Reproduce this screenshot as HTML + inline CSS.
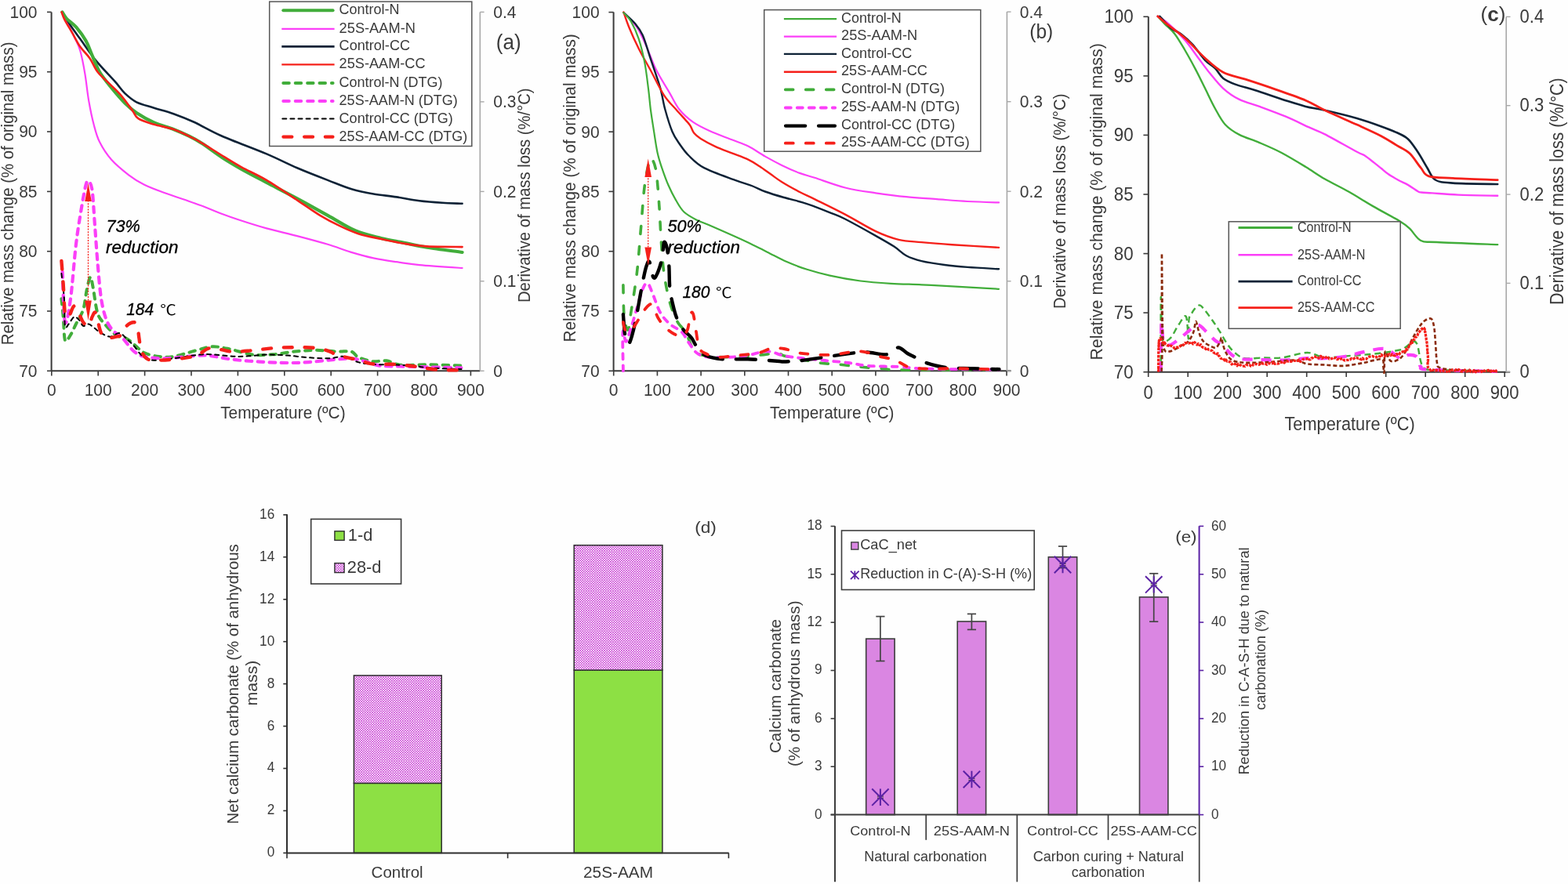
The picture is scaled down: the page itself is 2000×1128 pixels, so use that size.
<!DOCTYPE html>
<html><head><meta charset="utf-8"><title>Figure</title>
<style>
html,body{margin:0;padding:0;background:#fefefe;}
svg{display:block;}
</style></head>
<body>
<svg width="2000" height="1128" viewBox="0 0 2000 1128">
<rect width="2000" height="1128" fill="#fefefe"/>
<g font-family="'Liberation Sans', Arial, sans-serif" fill="#3a3a3a">
<defs><pattern id="chk" patternUnits="userSpaceOnUse" width="3.1" height="3.1"><rect width="3.1" height="3.1" fill="#ffffff"/><rect width="1.55" height="1.55" fill="#c636d2"/><rect x="1.55" y="1.55" width="1.55" height="1.55" fill="#c636d2"/></pattern></defs>
<rect x="451.4" y="999.4" width="111.8" height="89.0" fill="#8de044" stroke="#2e2e2e" stroke-width="1.5"/>
<rect x="451.4" y="861.9" width="111.8" height="137.5" fill="url(#chk)" stroke="#2e2e2e" stroke-width="1.5"/>
<rect x="732.2" y="855.1" width="112.7" height="233.3" fill="#8de044" stroke="#2e2e2e" stroke-width="1.5"/>
<rect x="732.2" y="695.7" width="112.7" height="159.4" fill="url(#chk)" stroke="#2e2e2e" stroke-width="1.5"/>
<line x1="366.0" y1="656.3" x2="366.0" y2="1089.0" stroke="#2e2e2e" stroke-width="2"/>
<line x1="361.3" y1="1088.4" x2="366.0" y2="1088.4" stroke="#2e2e2e" stroke-width="1.6"/>
<text transform="translate(350.2 1093.3) scale(1 1.1)" font-size="17.2" text-anchor="end">0</text>
<line x1="361.3" y1="1034.5" x2="366.0" y2="1034.5" stroke="#2e2e2e" stroke-width="1.6"/>
<text transform="translate(350.2 1039.4) scale(1 1.1)" font-size="17.2" text-anchor="end">2</text>
<line x1="361.3" y1="980.5" x2="366.0" y2="980.5" stroke="#2e2e2e" stroke-width="1.6"/>
<text transform="translate(350.2 985.4) scale(1 1.1)" font-size="17.2" text-anchor="end">4</text>
<line x1="361.3" y1="926.6" x2="366.0" y2="926.6" stroke="#2e2e2e" stroke-width="1.6"/>
<text transform="translate(350.2 931.5) scale(1 1.1)" font-size="17.2" text-anchor="end">6</text>
<line x1="361.3" y1="872.6" x2="366.0" y2="872.6" stroke="#2e2e2e" stroke-width="1.6"/>
<text transform="translate(350.2 877.5) scale(1 1.1)" font-size="17.2" text-anchor="end">8</text>
<line x1="361.3" y1="818.7" x2="366.0" y2="818.7" stroke="#2e2e2e" stroke-width="1.6"/>
<text transform="translate(350.2 823.6) scale(1 1.1)" font-size="17.2" text-anchor="end">10</text>
<line x1="361.3" y1="764.8" x2="366.0" y2="764.8" stroke="#2e2e2e" stroke-width="1.6"/>
<text transform="translate(350.2 769.7) scale(1 1.1)" font-size="17.2" text-anchor="end">12</text>
<line x1="361.3" y1="710.8" x2="366.0" y2="710.8" stroke="#2e2e2e" stroke-width="1.6"/>
<text transform="translate(350.2 715.7) scale(1 1.1)" font-size="17.2" text-anchor="end">14</text>
<line x1="361.3" y1="656.9" x2="366.0" y2="656.9" stroke="#2e2e2e" stroke-width="1.6"/>
<text transform="translate(350.2 661.8) scale(1 1.1)" font-size="17.2" text-anchor="end">16</text>
<line x1="366.0" y1="1088.4" x2="929.6" y2="1088.4" stroke="#2e2e2e" stroke-width="2"/>
<line x1="366.0" y1="1088.4" x2="366.0" y2="1095.2" stroke="#2e2e2e" stroke-width="1.6"/>
<line x1="647.6" y1="1088.4" x2="647.6" y2="1095.2" stroke="#2e2e2e" stroke-width="1.6"/>
<line x1="929.4" y1="1088.4" x2="929.4" y2="1095.2" stroke="#2e2e2e" stroke-width="1.6"/>
<text x="506.6" y="1119.6" font-size="20" text-anchor="middle" textLength="66.0" lengthAdjust="spacingAndGlyphs">Control</text>
<text x="788.5" y="1119.6" font-size="20.3" text-anchor="middle" textLength="89.0" lengthAdjust="spacingAndGlyphs">25S-AAM</text>
<text x="886.2" y="679.8" font-size="20" textLength="27.6" lengthAdjust="spacingAndGlyphs">(d)</text>
<text transform="translate(304.4 1051.4) rotate(-90)" font-size="20.2" textLength="357.2" lengthAdjust="spacingAndGlyphs">Net calcium carbonate (% of anhydrous</text>
<text transform="translate(328.4 900.4) rotate(-90)" font-size="20.4" textLength="57.8" lengthAdjust="spacingAndGlyphs">mass)</text>
<rect x="396.7" y="662.4" width="114.9" height="82.6" fill="#fff" stroke="#3a3a3a" stroke-width="1.6"/>
<rect x="426.9" y="677.8" width="12.2" height="11.6" fill="#8de044" stroke="#2e2e2e" stroke-width="1.4"/>
<rect x="426.9" y="718.6" width="12.2" height="12" fill="url(#chk)" stroke="#2e2e2e" stroke-width="1.4"/>
<text x="443.8" y="689.6" font-size="21.8">1-d</text>
<text x="442.8" y="730.8" font-size="21.8">28-d</text>
<rect x="1104.7" y="815.1" width="36.4" height="224.5" fill="#da86e2" stroke="#3d3d3d" stroke-width="1.6"/>
<rect x="1221.2" y="793.0" width="36.4" height="246.6" fill="#da86e2" stroke="#3d3d3d" stroke-width="1.6"/>
<rect x="1337.3" y="710.8" width="36.4" height="328.8" fill="#da86e2" stroke="#3d3d3d" stroke-width="1.6"/>
<rect x="1453.5" y="761.9" width="36.4" height="277.7" fill="#da86e2" stroke="#3d3d3d" stroke-width="1.6"/>
<line x1="1122.9" y1="786.6" x2="1122.9" y2="843.5" stroke="#444" stroke-width="1.7"/>
<line x1="1117.3" y1="786.6" x2="1128.5" y2="786.6" stroke="#444" stroke-width="1.7"/>
<line x1="1117.3" y1="843.5" x2="1128.5" y2="843.5" stroke="#444" stroke-width="1.7"/>
<line x1="1239.4" y1="783.4" x2="1239.4" y2="803.4" stroke="#444" stroke-width="1.7"/>
<line x1="1233.8" y1="783.4" x2="1245.0" y2="783.4" stroke="#444" stroke-width="1.7"/>
<line x1="1233.8" y1="803.4" x2="1245.0" y2="803.4" stroke="#444" stroke-width="1.7"/>
<line x1="1355.5" y1="697.1" x2="1355.5" y2="724.5" stroke="#444" stroke-width="1.7"/>
<line x1="1349.9" y1="697.1" x2="1361.1" y2="697.1" stroke="#444" stroke-width="1.7"/>
<line x1="1349.9" y1="724.5" x2="1361.1" y2="724.5" stroke="#444" stroke-width="1.7"/>
<line x1="1471.7" y1="731.8" x2="1471.7" y2="793.2" stroke="#444" stroke-width="1.7"/>
<line x1="1466.1" y1="731.8" x2="1477.3" y2="731.8" stroke="#444" stroke-width="1.7"/>
<line x1="1466.1" y1="793.2" x2="1477.3" y2="793.2" stroke="#444" stroke-width="1.7"/>
<line x1="1118.9" y1="1016.0" x2="1126.9" y2="1016.0" stroke="#444" stroke-width="1.4"/>
<line x1="1118.9" y1="1018.4" x2="1126.9" y2="1018.4" stroke="#444" stroke-width="1.4"/>
<path d="M1112.2,1006.5 L1133.6,1027.9 M1133.6,1006.5 L1112.2,1027.9 M1122.9,1006.5 L1122.9,1027.9" stroke="#5b22a5" stroke-width="2" fill="none"/>
<line x1="1235.4" y1="993.3" x2="1243.4" y2="993.3" stroke="#444" stroke-width="1.4"/>
<line x1="1235.4" y1="995.7" x2="1243.4" y2="995.7" stroke="#444" stroke-width="1.4"/>
<path d="M1228.7,983.8 L1250.1,1005.2 M1250.1,983.8 L1228.7,1005.2 M1239.4,983.8 L1239.4,1005.2" stroke="#5b22a5" stroke-width="2" fill="none"/>
<line x1="1351.5" y1="719.3" x2="1359.5" y2="719.3" stroke="#444" stroke-width="1.4"/>
<line x1="1351.5" y1="721.7" x2="1359.5" y2="721.7" stroke="#444" stroke-width="1.4"/>
<path d="M1344.8,709.8 L1366.2,731.2 M1366.2,709.8 L1344.8,731.2 M1355.5,709.8 L1355.5,731.2" stroke="#5b22a5" stroke-width="2" fill="none"/>
<line x1="1467.7" y1="744.7" x2="1475.7" y2="744.7" stroke="#444" stroke-width="1.4"/>
<line x1="1467.7" y1="747.1" x2="1475.7" y2="747.1" stroke="#444" stroke-width="1.4"/>
<path d="M1461.0,735.2 L1482.4,756.6 M1482.4,735.2 L1461.0,756.6 M1471.7,735.2 L1471.7,756.6" stroke="#5b22a5" stroke-width="2" fill="none"/>
<line x1="1065.0" y1="671.3" x2="1065.0" y2="1125.3" stroke="#3d3d3d" stroke-width="2"/>
<line x1="1059.6" y1="1039.6" x2="1065.0" y2="1039.6" stroke="#3d3d3d" stroke-width="1.6"/>
<text transform="translate(1048.6 1044.5) scale(1 1.1)" font-size="17.2" text-anchor="end">0</text>
<line x1="1059.6" y1="978.2" x2="1065.0" y2="978.2" stroke="#3d3d3d" stroke-width="1.6"/>
<text transform="translate(1048.6 983.1) scale(1 1.1)" font-size="17.2" text-anchor="end">3</text>
<line x1="1059.6" y1="916.9" x2="1065.0" y2="916.9" stroke="#3d3d3d" stroke-width="1.6"/>
<text transform="translate(1048.6 921.8) scale(1 1.1)" font-size="17.2" text-anchor="end">6</text>
<line x1="1059.6" y1="855.5" x2="1065.0" y2="855.5" stroke="#3d3d3d" stroke-width="1.6"/>
<text transform="translate(1048.6 860.4) scale(1 1.1)" font-size="17.2" text-anchor="end">9</text>
<line x1="1059.6" y1="794.2" x2="1065.0" y2="794.2" stroke="#3d3d3d" stroke-width="1.6"/>
<text transform="translate(1048.6 799.1) scale(1 1.1)" font-size="17.2" text-anchor="end">12</text>
<line x1="1059.6" y1="732.8" x2="1065.0" y2="732.8" stroke="#3d3d3d" stroke-width="1.6"/>
<text transform="translate(1048.6 737.7) scale(1 1.1)" font-size="17.2" text-anchor="end">15</text>
<line x1="1059.6" y1="671.5" x2="1065.0" y2="671.5" stroke="#3d3d3d" stroke-width="1.6"/>
<text transform="translate(1048.6 676.4) scale(1 1.1)" font-size="17.2" text-anchor="end">18</text>
<line x1="1059.6" y1="1039.6" x2="1529.7" y2="1039.6" stroke="#3d3d3d" stroke-width="2"/>
<line x1="1181.2" y1="1039.6" x2="1181.2" y2="1071.8" stroke="#3d3d3d" stroke-width="1.7"/>
<line x1="1297.3" y1="1039.6" x2="1297.3" y2="1125.3" stroke="#3d3d3d" stroke-width="1.7"/>
<line x1="1413.5" y1="1039.6" x2="1413.5" y2="1071.8" stroke="#3d3d3d" stroke-width="1.7"/>
<line x1="1529.7" y1="1039.6" x2="1529.7" y2="1125.3" stroke="#3d3d3d" stroke-width="1.7"/>
<line x1="1529.6" y1="671.3" x2="1529.6" y2="1039.6" stroke="#5b22a5" stroke-width="2"/>
<line x1="1529.6" y1="1039.6" x2="1535.2" y2="1039.6" stroke="#5b22a5" stroke-width="1.6"/>
<text transform="translate(1545.0 1044.8) scale(1 1.1)" font-size="17.2">0</text>
<line x1="1529.6" y1="978.2" x2="1535.2" y2="978.2" stroke="#5b22a5" stroke-width="1.6"/>
<text transform="translate(1545.0 983.4) scale(1 1.1)" font-size="17.2">10</text>
<line x1="1529.6" y1="916.9" x2="1535.2" y2="916.9" stroke="#5b22a5" stroke-width="1.6"/>
<text transform="translate(1545.0 922.1) scale(1 1.1)" font-size="17.2">20</text>
<line x1="1529.6" y1="855.5" x2="1535.2" y2="855.5" stroke="#5b22a5" stroke-width="1.6"/>
<text transform="translate(1545.0 860.7) scale(1 1.1)" font-size="17.2">30</text>
<line x1="1529.6" y1="794.1" x2="1535.2" y2="794.1" stroke="#5b22a5" stroke-width="1.6"/>
<text transform="translate(1545.0 799.3) scale(1 1.1)" font-size="17.2">40</text>
<line x1="1529.6" y1="732.8" x2="1535.2" y2="732.8" stroke="#5b22a5" stroke-width="1.6"/>
<text transform="translate(1545.0 738.0) scale(1 1.1)" font-size="17.2">50</text>
<line x1="1529.6" y1="671.4" x2="1535.2" y2="671.4" stroke="#5b22a5" stroke-width="1.6"/>
<text transform="translate(1545.0 676.6) scale(1 1.1)" font-size="17.2">60</text>
<text x="1122.9" y="1065.7" font-size="17.1" text-anchor="middle" textLength="77.2" lengthAdjust="spacingAndGlyphs">Control-N</text>
<text x="1239.4" y="1065.7" font-size="17.1" text-anchor="middle" textLength="97.1" lengthAdjust="spacingAndGlyphs">25S-AAM-N</text>
<text x="1355.5" y="1065.7" font-size="17.1" text-anchor="middle" textLength="90.8" lengthAdjust="spacingAndGlyphs">Control-CC</text>
<text x="1471.7" y="1065.7" font-size="17.1" text-anchor="middle" textLength="110.4" lengthAdjust="spacingAndGlyphs">25S-AAM-CC</text>
<text x="1180.5" y="1099.0" font-size="17.7" text-anchor="middle" textLength="156.3" lengthAdjust="spacingAndGlyphs">Natural carbonation</text>
<text x="1413.9" y="1099.0" font-size="17.9" text-anchor="middle" textLength="192.3" lengthAdjust="spacingAndGlyphs">Carbon curing + Natural</text>
<text x="1413.5" y="1119.3" font-size="17.9" text-anchor="middle">carbonation</text>
<text transform="translate(996.2 875.5) rotate(-90)" font-size="20.3" text-anchor="middle" textLength="171.0" lengthAdjust="spacingAndGlyphs">Calcium carbonate</text>
<text transform="translate(1020.3 872.2) rotate(-90)" font-size="20.3" text-anchor="middle" textLength="211.4" lengthAdjust="spacingAndGlyphs">(% of anhydrous mass)</text>
<text transform="translate(1592.8 843.5) rotate(-90)" font-size="18" text-anchor="middle" textLength="290.0" lengthAdjust="spacingAndGlyphs">Reduction in C-A-S-H due to natural</text>
<text transform="translate(1613.8 842.0) rotate(-90)" font-size="18" text-anchor="middle" textLength="128.0" lengthAdjust="spacingAndGlyphs">carbonation (%)</text>
<text x="1499.2" y="691.9" font-size="21" textLength="27.4" lengthAdjust="spacingAndGlyphs">(e)</text>
<rect x="1073.5" y="677" width="245.7" height="75.5" fill="#fff" stroke="#3d3d3d" stroke-width="1.6"/>
<rect x="1085.8" y="691.9" width="9" height="9.2" fill="#da86e2" stroke="#3d3d3d" stroke-width="1.4"/>
<path d="M1085.0,728.6 L1095.6,739.2 M1095.6,728.6 L1085.0,739.2 M1090.3,728.6 L1090.3,739.2" stroke="#5b22a5" stroke-width="1.8" fill="none"/>
<text x="1097.2" y="701.0" font-size="17.8" textLength="72.0" lengthAdjust="spacingAndGlyphs">CaC_net</text>
<text x="1097.2" y="738.1" font-size="17.8" textLength="219.0" lengthAdjust="spacingAndGlyphs">Reduction in C-(A)-S-H (%)</text>
<line x1="65.6" y1="15.4" x2="65.6" y2="473.8" stroke="#3a3a3a" stroke-width="2"/>
<line x1="60.0" y1="15.4" x2="65.6" y2="15.4" stroke="#3a3a3a" stroke-width="1.6"/>
<text transform="translate(47.5 22.8) scale(1 1.08)" font-size="21" text-anchor="end">100</text>
<line x1="60.0" y1="91.7" x2="65.6" y2="91.7" stroke="#3a3a3a" stroke-width="1.6"/>
<text transform="translate(47.5 99.1) scale(1 1.08)" font-size="21" text-anchor="end">95</text>
<line x1="60.0" y1="168.0" x2="65.6" y2="168.0" stroke="#3a3a3a" stroke-width="1.6"/>
<text transform="translate(47.5 175.4) scale(1 1.08)" font-size="21" text-anchor="end">90</text>
<line x1="60.0" y1="244.4" x2="65.6" y2="244.4" stroke="#3a3a3a" stroke-width="1.6"/>
<text transform="translate(47.5 251.8) scale(1 1.08)" font-size="21" text-anchor="end">85</text>
<line x1="60.0" y1="320.7" x2="65.6" y2="320.7" stroke="#3a3a3a" stroke-width="1.6"/>
<text transform="translate(47.5 328.1) scale(1 1.08)" font-size="21" text-anchor="end">80</text>
<line x1="60.0" y1="397.0" x2="65.6" y2="397.0" stroke="#3a3a3a" stroke-width="1.6"/>
<text transform="translate(47.5 404.4) scale(1 1.08)" font-size="21" text-anchor="end">75</text>
<line x1="60.0" y1="473.3" x2="65.6" y2="473.3" stroke="#3a3a3a" stroke-width="1.6"/>
<text transform="translate(47.5 480.7) scale(1 1.08)" font-size="21" text-anchor="end">70</text>
<line x1="65.6" y1="473.3" x2="612.3" y2="473.3" stroke="#3a3a3a" stroke-width="2"/>
<line x1="65.8" y1="473.3" x2="65.8" y2="479.5" stroke="#3a3a3a" stroke-width="1.6"/>
<text transform="translate(65.8 504.5) scale(1 1.08)" font-size="21" text-anchor="middle">0</text>
<line x1="125.2" y1="473.3" x2="125.2" y2="479.5" stroke="#3a3a3a" stroke-width="1.6"/>
<text transform="translate(125.2 504.5) scale(1 1.08)" font-size="21" text-anchor="middle">100</text>
<line x1="184.6" y1="473.3" x2="184.6" y2="479.5" stroke="#3a3a3a" stroke-width="1.6"/>
<text transform="translate(184.6 504.5) scale(1 1.08)" font-size="21" text-anchor="middle">200</text>
<line x1="244.0" y1="473.3" x2="244.0" y2="479.5" stroke="#3a3a3a" stroke-width="1.6"/>
<text transform="translate(244.0 504.5) scale(1 1.08)" font-size="21" text-anchor="middle">300</text>
<line x1="303.4" y1="473.3" x2="303.4" y2="479.5" stroke="#3a3a3a" stroke-width="1.6"/>
<text transform="translate(303.4 504.5) scale(1 1.08)" font-size="21" text-anchor="middle">400</text>
<line x1="362.8" y1="473.3" x2="362.8" y2="479.5" stroke="#3a3a3a" stroke-width="1.6"/>
<text transform="translate(362.8 504.5) scale(1 1.08)" font-size="21" text-anchor="middle">500</text>
<line x1="422.2" y1="473.3" x2="422.2" y2="479.5" stroke="#3a3a3a" stroke-width="1.6"/>
<text transform="translate(422.2 504.5) scale(1 1.08)" font-size="21" text-anchor="middle">600</text>
<line x1="481.6" y1="473.3" x2="481.6" y2="479.5" stroke="#3a3a3a" stroke-width="1.6"/>
<text transform="translate(481.6 504.5) scale(1 1.08)" font-size="21" text-anchor="middle">700</text>
<line x1="541.0" y1="473.3" x2="541.0" y2="479.5" stroke="#3a3a3a" stroke-width="1.6"/>
<text transform="translate(541.0 504.5) scale(1 1.08)" font-size="21" text-anchor="middle">800</text>
<line x1="600.4" y1="473.3" x2="600.4" y2="479.5" stroke="#3a3a3a" stroke-width="1.6"/>
<text transform="translate(600.4 504.5) scale(1 1.08)" font-size="21" text-anchor="middle">900</text>
<line x1="612.3" y1="15.4" x2="612.3" y2="473.3" stroke="#a8a8a8" stroke-width="1.6"/>
<line x1="612.3" y1="15.4" x2="617.6" y2="15.4" stroke="#a8a8a8" stroke-width="1.4"/>
<text transform="translate(629.3 22.8) scale(1 1.08)" font-size="21">0.4</text>
<line x1="612.3" y1="129.9" x2="617.6" y2="129.9" stroke="#a8a8a8" stroke-width="1.4"/>
<text transform="translate(629.3 137.3) scale(1 1.08)" font-size="21">0.3</text>
<line x1="612.3" y1="244.4" x2="617.6" y2="244.4" stroke="#a8a8a8" stroke-width="1.4"/>
<text transform="translate(629.3 251.8) scale(1 1.08)" font-size="21">0.2</text>
<line x1="612.3" y1="358.8" x2="617.6" y2="358.8" stroke="#a8a8a8" stroke-width="1.4"/>
<text transform="translate(629.3 366.2) scale(1 1.08)" font-size="21">0.1</text>
<line x1="612.3" y1="473.3" x2="617.6" y2="473.3" stroke="#a8a8a8" stroke-width="1.4"/>
<text transform="translate(629.3 480.7) scale(1 1.08)" font-size="21">0</text>
<text transform="translate(17.3 440.3) rotate(-90) scale(1 1.08)" font-size="20.4" textLength="386.8" lengthAdjust="spacingAndGlyphs">Relative mass change (% of original mass)</text>
<text transform="translate(281.2 533.5) scale(1 1.08)" font-size="20.8" textLength="159.4" lengthAdjust="spacingAndGlyphs">Temperature (ºC)</text>
<text transform="translate(676.2 386.0) rotate(-90) scale(1 1.08)" font-size="20" textLength="273.6" lengthAdjust="spacingAndGlyphs">Derivative of mass loss (%/°C)</text>
<text transform="translate(632.8 63.2) scale(1 1.08)" font-size="26">(a)</text>
<path d="M78.4,381.3 C78.8,385.1 79.9,395.5 80.7,404.3 C81.5,413.1 81.5,430.5 83.0,434.3 C84.5,438.1 87.7,430.9 90.0,427.4 C92.3,423.9 94.2,418.9 96.9,413.5 C99.6,408.1 103.8,402.4 106.1,395.1 C108.4,387.8 109.2,376.7 110.7,369.8 C112.2,362.9 114.0,354.0 115.3,353.6 C116.6,353.2 117.3,359.8 118.8,367.5 C120.3,375.2 122.0,392.0 124.5,399.7 C127.0,407.4 129.8,408.9 133.7,413.5 C137.5,418.1 143.0,424.3 147.6,427.4 C152.2,430.5 157.2,429.7 161.4,432.0 C165.6,434.3 169.1,438.1 172.9,441.2 C176.7,444.3 179.4,448.1 184.4,450.4 C189.4,452.7 196.8,454.2 202.9,455.0 C209.1,455.8 213.5,456.3 221.3,455.0 C229.2,453.7 241.6,449.3 250.0,447.2 C258.4,445.1 264.1,442.5 271.6,442.3 C279.1,442.1 286.6,444.2 295.0,445.9 C303.4,447.6 313.0,451.6 322.0,452.6 C331.0,453.7 340.0,452.9 349.0,452.2 C358.0,451.5 367.0,449.5 376.0,448.6 C385.0,447.7 394.0,446.8 403.0,446.8 C412.0,446.8 422.5,448.3 430.0,448.6 C437.5,448.9 443.5,447.4 448.0,448.6 C452.5,449.8 452.5,453.7 457.0,455.8 C461.5,457.9 469.0,460.4 475.0,461.2 C481.0,461.9 487.0,459.6 493.0,460.3 C499.0,461.1 502.0,464.9 511.0,465.7 C520.0,466.5 534.1,465.0 547.0,465.2 C559.9,465.4 581.5,466.4 588.4,466.6" fill="none" stroke="#41ad3a" stroke-width="4" stroke-linecap="round" stroke-linejoin="round" stroke-dasharray="7.5 7.5"/>
<path d="M79.6,346.7 C80.2,357.4 81.3,405.4 83.0,411.2 C84.7,417.0 87.7,397.8 90.0,381.3 C92.3,364.8 94.6,331.4 96.9,312.2 C99.2,293.0 101.7,278.8 103.8,266.1 C105.9,253.4 108.0,241.9 109.5,236.1 C111.0,230.3 111.7,230.3 113.0,231.5 C114.3,232.7 116.2,233.4 117.6,243.0 C118.9,252.6 119.9,273.7 121.1,289.1 C122.2,304.5 123.2,319.8 124.5,335.2 C125.8,350.6 127.2,369.0 129.1,381.3 C131.0,393.6 133.3,402.0 136.0,408.9 C138.7,415.8 141.8,418.9 145.3,422.8 C148.8,426.7 152.6,427.8 156.8,432.0 C161.0,436.2 166.0,444.3 170.6,448.1 C175.2,451.9 177.9,453.5 184.4,455.0 C190.9,456.5 198.9,457.5 209.8,457.3 C220.7,457.1 240.3,454.6 250.0,454.0 C259.7,453.4 260.5,453.2 268.0,454.0 C275.5,454.8 284.5,457.2 295.0,458.5 C305.5,459.8 319.0,460.9 331.0,461.6 C343.0,462.4 356.5,462.9 367.0,463.0 C377.5,463.1 385.0,462.7 394.0,462.1 C403.0,461.5 412.0,460.1 421.0,459.4 C430.0,458.6 440.5,457.3 448.0,457.6 C455.5,457.9 460.0,459.7 466.0,461.2 C472.0,462.7 476.5,465.6 484.0,466.6 C491.5,467.7 500.5,467.2 511.0,467.5 C521.5,467.8 534.1,468.1 547.0,468.4 C559.9,468.7 581.5,469.1 588.4,469.3" fill="none" stroke="#fb3ff8" stroke-width="4.2" stroke-linecap="round" stroke-linejoin="round" stroke-dasharray="7.5 7.5"/>
<path d="M78.4,349.0 C79.0,354.4 81.1,370.2 81.9,381.3 C82.7,392.4 82.0,410.5 83.0,415.9 C84.0,421.3 85.7,415.4 87.6,413.5 C89.5,411.6 92.3,405.1 94.6,404.3 C96.9,403.5 99.6,407.0 101.5,408.9 C103.4,410.8 104.2,415.1 106.1,415.9 C108.0,416.7 110.7,413.1 113.0,413.5 C115.3,413.9 117.2,416.3 119.9,418.2 C122.6,420.1 125.6,423.2 129.1,425.1 C132.5,427.0 136.8,429.7 140.6,429.7 C144.4,429.7 148.7,424.7 152.2,425.1 C155.7,425.5 158.3,429.3 161.4,432.0 C164.5,434.7 167.5,437.8 170.6,441.2 C173.7,444.6 176.7,449.8 179.8,452.7 C182.9,455.6 185.2,457.4 189.0,458.5 C192.8,459.6 197.5,459.8 202.9,459.6 C208.3,459.4 213.5,458.4 221.3,457.3 C229.2,456.2 242.2,454.0 250.0,453.1 C257.8,452.2 259.0,451.9 268.0,452.2 C277.0,452.5 292.0,454.8 304.0,454.9 C316.0,455.0 329.5,452.8 340.0,452.6 C350.5,452.4 358.0,453.0 367.0,453.6 C376.0,454.2 385.0,455.7 394.0,456.3 C403.0,456.9 413.5,457.4 421.0,457.2 C428.5,457.0 433.0,454.1 439.0,454.9 C445.0,455.7 451.0,460.5 457.0,462.1 C463.0,463.8 464.5,464.1 475.0,464.8 C485.5,465.5 508.0,465.4 520.0,466.2 C532.0,466.9 535.6,468.5 547.0,469.3 C558.4,470.1 581.5,470.8 588.4,471.1" fill="none" stroke="#000000" stroke-width="2" stroke-linecap="round" stroke-linejoin="round" stroke-dasharray="5 5.1"/>
<path d="M78.4,332.9 C78.8,337.9 79.9,351.8 80.7,362.9 C81.5,374.0 81.8,392.8 83.0,399.7 C84.2,406.6 85.7,405.8 87.6,404.3 C89.5,402.8 92.3,390.9 94.6,390.5 C96.9,390.1 99.6,398.6 101.5,402.0 C103.4,405.4 104.2,408.9 106.1,411.2 C108.0,413.5 111.1,417.0 113.0,415.9 C114.9,414.8 116.1,407.0 117.6,404.3 C119.1,401.6 120.3,396.2 122.2,399.7 C124.1,403.2 126.4,419.9 129.1,425.1 C131.8,430.3 135.2,430.0 138.3,430.8 C141.4,431.6 144.9,430.3 147.6,429.7 C150.3,429.1 152.2,429.7 154.5,427.4 C156.8,425.1 158.7,418.6 161.4,415.9 C164.1,413.2 168.3,411.2 170.6,411.2 C172.9,411.2 174.0,412.4 175.2,415.9 C176.3,419.4 176.7,427.0 177.5,432.0 C178.3,437.0 178.3,441.6 179.8,445.8 C181.3,450.0 183.6,455.0 186.7,457.3 C189.8,459.6 192.4,459.4 198.2,459.6 C204.0,459.8 212.7,459.4 221.3,458.5 C229.9,457.6 242.2,456.4 250.0,454.0 C257.8,451.6 260.5,445.0 268.0,444.1 C275.5,443.2 286.0,448.1 295.0,448.6 C304.0,449.1 313.0,447.9 322.0,447.2 C331.0,446.4 340.0,444.8 349.0,444.1 C358.0,443.4 367.0,443.2 376.0,443.2 C385.0,443.2 395.5,443.2 403.0,444.1 C410.5,445.0 416.5,447.1 421.0,448.6 C425.5,450.1 424.0,451.3 430.0,453.1 C436.0,454.9 449.5,457.5 457.0,459.4 C464.5,461.3 467.5,463.5 475.0,464.4 C482.5,465.3 493.0,464.3 502.0,464.8 C511.0,465.3 520.0,466.4 529.0,467.5 C538.0,468.6 546.1,470.8 556.0,471.6 C565.9,472.4 583.0,472.3 588.4,472.4" fill="none" stroke="#f5201a" stroke-width="4.4" stroke-linecap="round" stroke-linejoin="round" stroke-dasharray="10.8 15.9"/>
<path d="M79.4,15.4 C82.0,20.7 90.9,38.9 94.7,47.1 C98.5,55.3 99.9,56.6 102.2,64.5 C104.5,72.4 106.6,83.5 108.4,94.3 C110.2,105.0 111.4,118.2 113.3,129.0 C115.2,139.8 117.3,150.1 119.6,158.8 C121.9,167.5 123.3,173.7 127.0,181.1 C130.7,188.5 135.7,196.5 141.9,203.5 C148.1,210.5 157.2,217.9 164.2,223.3 C171.2,228.7 176.6,232.0 184.1,235.7 C191.6,239.4 200.6,242.6 208.9,245.7 C217.2,248.8 225.4,251.4 233.7,254.3 C242.0,257.2 250.2,259.9 258.5,263.0 C266.8,266.1 275.9,270.2 283.3,273.0 C290.8,275.8 293.8,276.9 303.2,280.0 C312.6,283.1 327.4,287.9 340.0,291.4 C352.6,294.9 366.0,297.7 379.0,301.1 C392.0,304.5 406.6,308.4 418.0,311.8 C429.4,315.2 437.4,318.7 447.2,321.6 C456.9,324.5 466.8,327.3 476.5,329.4 C486.2,331.5 495.9,332.8 505.7,334.2 C515.5,335.6 521.0,336.8 535.0,338.1 C549.0,339.4 580.5,341.4 589.6,342.0" fill="none" stroke="#fb3ff8" stroke-width="2.2" stroke-linecap="round" stroke-linejoin="round"/>
<path d="M79.4,15.4 C81.1,18.2 86.0,26.6 89.8,32.3 C93.6,38.0 96.8,42.2 102.2,49.6 C107.6,57.0 114.6,67.8 122.0,76.9 C129.4,86.0 140.6,97.2 146.8,104.2 C153.0,111.2 154.8,114.8 159.3,119.1 C163.9,123.4 167.9,127.2 174.1,130.3 C180.3,133.4 188.6,135.2 196.5,137.7 C204.4,140.2 212.6,142.1 221.3,145.2 C230.0,148.3 238.3,151.6 248.6,156.3 C258.9,161.1 268.1,167.0 283.3,173.7 C298.5,180.4 324.1,189.6 340.0,196.4 C355.9,203.2 366.0,208.7 379.0,214.3 C392.0,219.9 406.3,225.4 418.0,229.9 C429.7,234.4 439.4,238.7 449.2,241.6 C458.9,244.5 467.1,245.9 476.5,247.5 C485.9,249.1 495.9,249.9 505.7,251.4 C515.5,252.9 525.2,255.1 535.0,256.3 C544.8,257.5 555.1,258.2 564.2,258.8 C573.3,259.4 585.4,259.6 589.6,259.8" fill="none" stroke="#0e2236" stroke-width="2.6" stroke-linecap="round" stroke-linejoin="round"/>
<path d="M79.4,15.4 C80.3,16.8 81.8,20.4 84.8,23.6 C87.8,26.8 93.1,30.0 97.2,34.7 C101.3,39.5 106.3,46.3 109.6,52.1 C112.9,57.9 114.2,62.9 117.1,69.5 C120.0,76.1 122.9,84.8 127.0,91.8 C131.1,98.8 136.5,105.1 141.9,111.7 C147.3,118.3 153.9,126.1 159.3,131.5 C164.7,136.9 167.9,139.8 174.1,143.9 C180.3,148.0 188.6,152.8 196.5,156.3 C204.4,159.8 213.9,162.1 221.3,165.0 C228.7,167.9 234.9,170.6 241.1,173.7 C247.3,176.8 251.5,179.0 258.5,183.6 C265.5,188.2 275.0,195.6 283.3,201.0 C291.6,206.4 298.7,210.6 308.1,215.9 C317.6,221.2 328.2,226.7 340.0,232.9 C351.8,239.1 366.0,246.3 379.0,253.3 C392.0,260.3 405.6,268.0 418.0,274.8 C430.4,281.6 441.7,289.4 453.1,294.3 C464.5,299.2 475.8,301.4 486.2,304.0 C496.6,306.6 505.8,307.9 515.5,309.9 C525.2,311.8 532.4,313.7 544.7,315.7 C557.1,317.7 582.1,320.9 589.6,322.0" fill="none" stroke="#41ad3a" stroke-width="4.2" stroke-linecap="round" stroke-linejoin="round"/>
<path d="M78.6,15.4 C79.2,17.0 80.0,20.3 82.3,24.8 C84.6,29.3 89.0,36.4 92.3,42.2 C95.6,48.0 98.5,54.2 102.2,59.6 C105.9,65.0 110.9,69.0 114.6,74.4 C118.3,79.8 120.4,86.4 124.5,91.8 C128.6,97.2 134.4,101.7 139.4,106.7 C144.4,111.7 149.3,115.8 154.3,121.6 C159.3,127.4 165.5,136.4 169.2,141.4 C172.9,146.4 172.0,148.5 176.6,151.4 C181.2,154.3 189.1,156.5 196.5,158.8 C203.9,161.1 213.0,162.1 221.3,165.0 C229.6,167.9 239.1,172.7 246.1,176.2 C253.1,179.7 257.3,182.4 263.5,186.1 C269.7,189.8 275.9,193.9 283.3,198.5 C290.7,203.1 298.7,208.2 308.1,213.4 C317.6,218.6 328.2,222.9 340.0,229.9 C351.8,236.9 367.6,247.8 379.0,255.3 C390.4,262.8 399.1,269.3 408.2,274.8 C417.3,280.3 425.5,284.5 433.6,288.4 C441.7,292.3 448.2,295.4 457.0,298.2 C465.8,301.0 476.4,302.9 486.2,305.0 C495.9,307.1 505.8,309.2 515.5,310.8 C525.2,312.4 532.4,313.7 544.7,314.4 C557.1,315.1 582.1,315.0 589.6,315.1" fill="none" stroke="#f5201a" stroke-width="2.6" stroke-linecap="round" stroke-linejoin="round"/>
<line x1="112.5" y1="252.0" x2="112.5" y2="388.0" stroke="#f5201a" stroke-width="1.3" stroke-dasharray="2 1.6"/>
<path d="M112.5,233.8 L108.2,257 L116.8,257 Z" fill="#f5201a"/>
<path d="M112.5,409 L108.2,383.6 L116.8,383.6 Z" fill="#f5201a"/>
<text x="135.5" y="296.3" font-size="22.4" fill="#000" font-style="italic" textLength="43.4" lengthAdjust="spacingAndGlyphs" stroke="#000" stroke-width="0.3">73%</text>
<text x="135.0" y="322.8" font-size="22.4" fill="#000" font-style="italic" textLength="92.4" lengthAdjust="spacingAndGlyphs" stroke="#000" stroke-width="0.3">reduction</text>
<text x="161.2" y="402.2" font-size="22.4" fill="#000" font-style="italic" textLength="35.0" lengthAdjust="spacingAndGlyphs" stroke="#000" stroke-width="0.3">184</text>
<text x="204.3" y="401.8" font-size="18.5" fill="#000" textLength="20.6" lengthAdjust="spacingAndGlyphs" font-family="'Noto Sans CJK SC', 'Liberation Sans', sans-serif">℃</text>
<rect x="343.7" y="2.1" width="258.1" height="184.4" fill="#fff" stroke="#555" stroke-width="1.5"/>
<line x1="361.3" y1="13.3" x2="424.6" y2="13.3" stroke="#41ad3a" stroke-width="4" stroke-linecap="round"/>
<text transform="translate(432.6 18.2) scale(1 1.08)" font-size="17.3" textLength="76.8" lengthAdjust="spacingAndGlyphs">Control-N</text>
<line x1="359.3" y1="36.9" x2="426.6" y2="36.9" stroke="#fb3ff8" stroke-width="2.2" stroke-linecap="butt"/>
<text transform="translate(432.6 41.8) scale(1 1.08)" font-size="17.3" textLength="97.3" lengthAdjust="spacingAndGlyphs">25S-AAM-N</text>
<line x1="359.3" y1="59.4" x2="426.6" y2="59.4" stroke="#0e2236" stroke-width="2.6" stroke-linecap="butt"/>
<text transform="translate(432.6 64.3) scale(1 1.08)" font-size="17.3" textLength="90.4" lengthAdjust="spacingAndGlyphs">Control-CC</text>
<line x1="359.3" y1="82.4" x2="426.6" y2="82.4" stroke="#f5201a" stroke-width="2.4" stroke-linecap="butt"/>
<text transform="translate(432.6 87.3) scale(1 1.08)" font-size="17.3" textLength="110.0" lengthAdjust="spacingAndGlyphs">25S-AAM-CC</text>
<line x1="361.3" y1="105.9" x2="424.6" y2="105.9" stroke="#41ad3a" stroke-width="4" stroke-linecap="round" stroke-dasharray="7.5 7.9"/>
<text transform="translate(432.6 110.8) scale(1 1.08)" font-size="17.3" textLength="132.0" lengthAdjust="spacingAndGlyphs">Control-N (DTG)</text>
<line x1="361.3" y1="129.0" x2="424.6" y2="129.0" stroke="#fb3ff8" stroke-width="4" stroke-linecap="round" stroke-dasharray="7.5 7.9"/>
<text transform="translate(432.6 133.9) scale(1 1.08)" font-size="17.3" textLength="151.2" lengthAdjust="spacingAndGlyphs">25S-AAM-N (DTG)</text>
<line x1="360.3" y1="151.6" x2="425.6" y2="151.6" stroke="#000000" stroke-width="2" stroke-linecap="round" stroke-dasharray="5 5.1"/>
<text transform="translate(432.6 156.5) scale(1 1.08)" font-size="17.3" textLength="145.2" lengthAdjust="spacingAndGlyphs">Control-CC (DTG)</text>
<line x1="361.5" y1="174.6" x2="424.4" y2="174.6" stroke="#f5201a" stroke-width="4.4" stroke-linecap="round" stroke-dasharray="10.8 15.9"/>
<text transform="translate(432.6 179.5) scale(1 1.08)" font-size="17.3" textLength="163.7" lengthAdjust="spacingAndGlyphs">25S-AAM-CC (DTG)</text>
<line x1="782.6" y1="15.6" x2="782.6" y2="473.8" stroke="#3a3a3a" stroke-width="2"/>
<line x1="776.4" y1="15.6" x2="782.6" y2="15.6" stroke="#3a3a3a" stroke-width="1.6"/>
<text transform="translate(764.6 23.0) scale(1 1.08)" font-size="21" text-anchor="end">100</text>
<line x1="776.4" y1="91.9" x2="782.6" y2="91.9" stroke="#3a3a3a" stroke-width="1.6"/>
<text transform="translate(764.6 99.3) scale(1 1.08)" font-size="21" text-anchor="end">95</text>
<line x1="776.4" y1="168.2" x2="782.6" y2="168.2" stroke="#3a3a3a" stroke-width="1.6"/>
<text transform="translate(764.6 175.6) scale(1 1.08)" font-size="21" text-anchor="end">90</text>
<line x1="776.4" y1="244.4" x2="782.6" y2="244.4" stroke="#3a3a3a" stroke-width="1.6"/>
<text transform="translate(764.6 251.8) scale(1 1.08)" font-size="21" text-anchor="end">85</text>
<line x1="776.4" y1="320.7" x2="782.6" y2="320.7" stroke="#3a3a3a" stroke-width="1.6"/>
<text transform="translate(764.6 328.1) scale(1 1.08)" font-size="21" text-anchor="end">80</text>
<line x1="776.4" y1="397.0" x2="782.6" y2="397.0" stroke="#3a3a3a" stroke-width="1.6"/>
<text transform="translate(764.6 404.4) scale(1 1.08)" font-size="21" text-anchor="end">75</text>
<line x1="776.4" y1="473.3" x2="782.6" y2="473.3" stroke="#3a3a3a" stroke-width="1.6"/>
<text transform="translate(764.6 480.7) scale(1 1.08)" font-size="21" text-anchor="end">70</text>
<line x1="782.6" y1="473.3" x2="1289.5" y2="473.3" stroke="#3a3a3a" stroke-width="2"/>
<line x1="782.7" y1="473.3" x2="782.7" y2="479.5" stroke="#3a3a3a" stroke-width="1.6"/>
<text transform="translate(782.7 504.5) scale(1 1.08)" font-size="21" text-anchor="middle">0</text>
<line x1="838.4" y1="473.3" x2="838.4" y2="479.5" stroke="#3a3a3a" stroke-width="1.6"/>
<text transform="translate(838.4 504.5) scale(1 1.08)" font-size="21" text-anchor="middle">100</text>
<line x1="894.1" y1="473.3" x2="894.1" y2="479.5" stroke="#3a3a3a" stroke-width="1.6"/>
<text transform="translate(894.1 504.5) scale(1 1.08)" font-size="21" text-anchor="middle">200</text>
<line x1="949.8" y1="473.3" x2="949.8" y2="479.5" stroke="#3a3a3a" stroke-width="1.6"/>
<text transform="translate(949.8 504.5) scale(1 1.08)" font-size="21" text-anchor="middle">300</text>
<line x1="1005.5" y1="473.3" x2="1005.5" y2="479.5" stroke="#3a3a3a" stroke-width="1.6"/>
<text transform="translate(1005.5 504.5) scale(1 1.08)" font-size="21" text-anchor="middle">400</text>
<line x1="1061.2" y1="473.3" x2="1061.2" y2="479.5" stroke="#3a3a3a" stroke-width="1.6"/>
<text transform="translate(1061.2 504.5) scale(1 1.08)" font-size="21" text-anchor="middle">500</text>
<line x1="1116.9" y1="473.3" x2="1116.9" y2="479.5" stroke="#3a3a3a" stroke-width="1.6"/>
<text transform="translate(1116.9 504.5) scale(1 1.08)" font-size="21" text-anchor="middle">600</text>
<line x1="1172.6" y1="473.3" x2="1172.6" y2="479.5" stroke="#3a3a3a" stroke-width="1.6"/>
<text transform="translate(1172.6 504.5) scale(1 1.08)" font-size="21" text-anchor="middle">700</text>
<line x1="1228.3" y1="473.3" x2="1228.3" y2="479.5" stroke="#3a3a3a" stroke-width="1.6"/>
<text transform="translate(1228.3 504.5) scale(1 1.08)" font-size="21" text-anchor="middle">800</text>
<line x1="1284.0" y1="473.3" x2="1284.0" y2="479.5" stroke="#3a3a3a" stroke-width="1.6"/>
<text transform="translate(1284.0 504.5) scale(1 1.08)" font-size="21" text-anchor="middle">900</text>
<line x1="1284.4" y1="15.1" x2="1284.4" y2="473.3" stroke="#a8a8a8" stroke-width="1.6"/>
<line x1="1284.4" y1="15.1" x2="1289.5" y2="15.1" stroke="#a8a8a8" stroke-width="1.4"/>
<text transform="translate(1300.8 22.5) scale(1 1.08)" font-size="21">0.4</text>
<line x1="1284.4" y1="129.7" x2="1289.5" y2="129.7" stroke="#a8a8a8" stroke-width="1.4"/>
<text transform="translate(1300.8 137.1) scale(1 1.08)" font-size="21">0.3</text>
<line x1="1284.4" y1="244.2" x2="1289.5" y2="244.2" stroke="#a8a8a8" stroke-width="1.4"/>
<text transform="translate(1300.8 251.6) scale(1 1.08)" font-size="21">0.2</text>
<line x1="1284.4" y1="358.8" x2="1289.5" y2="358.8" stroke="#a8a8a8" stroke-width="1.4"/>
<text transform="translate(1300.8 366.1) scale(1 1.08)" font-size="21">0.1</text>
<line x1="1284.4" y1="473.3" x2="1289.5" y2="473.3" stroke="#a8a8a8" stroke-width="1.4"/>
<text transform="translate(1300.8 480.7) scale(1 1.08)" font-size="21">0</text>
<text transform="translate(734.4 436.6) rotate(-90) scale(1 1.08)" font-size="20.4" textLength="393.4" lengthAdjust="spacingAndGlyphs">Relative mass change (% of original mass)</text>
<text transform="translate(982.1 533.5) scale(1 1.08)" font-size="20.8" textLength="158.4" lengthAdjust="spacingAndGlyphs">Temperature (ºC)</text>
<text transform="translate(1358.6 394.0) rotate(-90) scale(1 1.08)" font-size="20" textLength="274.4" lengthAdjust="spacingAndGlyphs">Derivative of mass loss (%/°C)</text>
<text transform="translate(1313.3 48.8) scale(1 1.08)" font-size="24.5">(b)</text>
<path d="M794.9,363.9 C795.1,370.5 795.1,394.1 796.1,403.6 C797.1,413.1 799.7,421.8 801.1,421.0 C802.5,420.2 802.9,410.7 804.8,398.7 C806.7,386.7 810.2,366.4 812.3,349.0 C814.4,331.6 815.6,313.0 817.2,294.4 C818.9,275.8 820.3,252.1 822.2,237.2 C824.1,222.3 826.8,210.6 828.4,205.0 C830.0,199.4 830.6,201.2 832.1,203.7 C833.6,206.2 835.7,210.2 837.1,219.9 C838.5,229.6 839.8,247.6 840.8,262.1 C841.8,276.6 842.3,292.3 843.3,306.8 C844.3,321.3 845.1,335.8 847.0,349.0 C848.9,362.2 851.6,375.8 854.5,386.2 C857.4,396.6 861.1,404.9 864.4,411.1 C867.7,417.3 871.1,417.7 874.4,423.5 C877.7,429.3 880.6,440.8 884.3,445.8 C888.0,450.8 889.2,451.6 896.7,453.3 C904.2,455.0 917.4,455.8 929.0,455.8 C940.6,455.8 955.9,454.1 966.2,453.3 C976.6,452.5 985.5,450.7 991.1,450.8 C996.7,450.9 996.0,453.0 1000.0,454.0 C1004.0,455.0 1007.5,455.5 1015.0,457.0 C1022.5,458.5 1035.5,461.6 1045.0,463.0 C1054.5,464.4 1063.2,464.3 1072.0,465.2 C1080.8,466.1 1088.2,467.3 1097.5,468.2 C1106.8,469.1 1118.8,469.9 1127.5,470.5 C1136.2,471.1 1125.5,471.8 1150.0,472.0 C1174.5,472.2 1253.8,471.8 1274.5,471.7" fill="none" stroke="#41ad3a" stroke-width="3.6" stroke-linecap="round" stroke-linejoin="round" stroke-dasharray="10 16"/>
<path d="M794.9,473.2 C794.8,464.9 793.8,429.7 794.4,423.5 C795.0,417.3 796.9,436.7 798.6,435.9 C800.3,435.1 802.5,425.5 804.8,418.5 C807.1,411.5 809.8,402.0 812.3,393.7 C814.8,385.4 817.4,374.3 819.7,368.9 C822.0,363.5 823.8,360.6 825.9,361.4 C828.0,362.2 829.4,367.6 832.1,373.8 C834.8,380.0 838.4,392.1 842.1,398.7 C845.8,405.3 850.0,409.5 854.5,413.6 C859.0,417.7 865.3,419.4 869.4,423.5 C873.5,427.6 876.0,433.8 879.3,438.4 C882.6,442.9 885.1,447.9 889.3,450.8 C893.4,453.7 897.6,455.0 904.2,455.8 C910.8,456.6 920.7,456.2 929.0,455.8 C937.3,455.4 945.5,454.6 953.8,453.3 C962.1,452.1 971.0,448.2 978.7,448.3 C986.4,448.4 992.7,452.6 1000.0,454.0 C1007.3,455.4 1013.8,456.0 1022.5,457.0 C1031.2,458.0 1042.5,459.0 1052.5,460.0 C1062.5,461.0 1073.8,461.9 1082.5,463.0 C1091.2,464.1 1097.5,465.9 1105.0,466.7 C1112.5,467.4 1120.0,467.2 1127.5,467.5 C1135.0,467.8 1141.2,467.7 1150.0,468.2 C1158.8,468.7 1159.2,469.9 1180.0,470.5 C1200.8,471.1 1258.8,471.5 1274.5,471.7" fill="none" stroke="#fb3ff8" stroke-width="3.8" stroke-linecap="round" stroke-linejoin="round" stroke-dasharray="7 8"/>
<path d="M794.9,401.1 C795.3,405.7 796.2,422.3 797.4,428.5 C798.6,434.7 800.2,440.9 802.3,438.4 C804.4,435.9 807.3,424.4 809.8,413.6 C812.3,402.8 815.3,383.7 817.2,373.8 C819.1,363.9 819.8,359.8 821.0,354.0 C822.2,348.2 823.5,342.4 824.7,339.1 C825.9,335.8 827.0,331.6 828.4,334.1 C829.8,336.6 831.7,351.5 833.4,354.0 C835.1,356.5 836.5,353.1 838.4,349.0 C840.3,344.9 843.2,335.7 844.6,329.1 C846.0,322.5 846.0,311.4 847.0,309.3 C848.0,307.2 849.8,311.7 850.8,316.7 C851.8,321.7 852.7,330.4 853.3,339.1 C853.9,347.8 853.5,359.8 854.5,368.9 C855.5,378.0 857.9,387.1 859.5,393.7 C861.1,400.3 862.3,404.1 864.4,408.6 C866.5,413.2 869.0,417.3 871.9,421.0 C874.8,424.7 878.9,427.2 881.8,430.9 C884.7,434.6 886.4,439.7 889.3,443.4 C892.2,447.1 893.8,450.8 899.2,453.3 C904.6,455.8 912.4,457.5 921.5,458.3 C930.6,459.1 942.2,457.9 953.8,458.3 C965.4,458.7 983.4,460.2 991.1,460.7 C998.8,461.2 994.8,461.6 1000.0,461.5 C1005.2,461.4 1014.2,460.9 1022.5,460.0 C1030.8,459.1 1038.2,457.6 1049.5,456.0 C1060.8,454.4 1080.5,451.3 1090.0,450.2 C1099.5,449.1 1099.5,449.2 1106.5,449.5 C1113.5,449.8 1125.5,453.2 1132.0,452.2 C1138.5,451.2 1141.2,443.7 1145.5,443.5 C1149.8,443.3 1153.8,448.9 1157.5,451.0 C1161.2,453.1 1164.0,454.2 1168.0,456.2 C1172.0,458.2 1175.0,460.9 1181.5,463.0 C1188.0,465.1 1197.2,467.8 1207.0,469.0 C1216.8,470.2 1228.8,469.8 1240.0,470.2 C1251.2,470.6 1268.8,471.0 1274.5,471.2" fill="none" stroke="#000000" stroke-width="4.4" stroke-linecap="round" stroke-linejoin="round" stroke-dasharray="25 17"/>
<path d="M794.9,411.1 C795.3,412.8 795.9,418.9 797.4,421.0 C798.9,423.1 801.1,425.1 803.6,423.5 C806.1,421.9 809.6,415.2 812.3,411.1 C815.0,407.0 817.0,402.4 819.7,398.7 C822.4,395.0 826.1,389.9 828.4,388.7 C830.7,387.4 831.5,388.3 833.4,391.2 C835.3,394.1 836.9,401.6 839.6,406.1 C842.3,410.7 846.2,415.2 849.5,418.5 C852.8,421.8 856.2,424.3 859.5,426.0 C862.8,427.7 866.5,429.3 869.4,428.5 C872.3,427.7 874.9,425.6 876.8,421.0 C878.7,416.4 879.4,404.4 880.6,401.1 C881.9,397.8 883.1,397.4 884.3,401.1 C885.5,404.8 886.8,416.4 888.0,423.5 C889.2,430.6 889.8,438.8 891.7,443.4 C893.6,447.9 895.1,448.7 899.2,450.8 C903.4,452.9 909.6,455.4 916.6,455.8 C923.6,456.2 933.1,454.1 941.4,453.3 C949.7,452.5 959.2,452.2 966.2,450.8 C973.2,449.4 978.0,445.6 983.6,444.6 C989.2,443.6 994.8,444.2 1000.0,445.0 C1005.2,445.8 1010.0,448.4 1015.0,449.5 C1020.0,450.6 1022.5,451.1 1030.0,451.7 C1037.5,452.2 1049.5,453.4 1060.0,452.8 C1070.5,452.2 1085.0,448.7 1093.0,448.3 C1101.0,447.9 1103.5,449.2 1108.0,450.2 C1112.5,451.2 1115.5,453.1 1120.0,454.3 C1124.5,455.6 1130.8,456.5 1135.0,457.7 C1139.2,458.9 1141.5,459.8 1145.5,461.5 C1149.5,463.2 1153.2,466.7 1159.0,468.2 C1164.8,469.7 1169.0,470.2 1180.0,470.5 C1191.0,470.8 1209.2,470.0 1225.0,470.2 C1240.8,470.4 1266.2,471.4 1274.5,471.7" fill="none" stroke="#f5201a" stroke-width="3.8" stroke-linecap="round" stroke-linejoin="round" stroke-dasharray="10 16"/>
<path d="M795.4,16.1 C798.2,19.2 807.4,27.5 812.3,34.7 C817.2,42.0 820.6,50.5 824.7,59.6 C828.8,68.7 832.2,79.4 837.1,89.3 C842.0,99.2 849.5,110.6 854.4,119.1 C859.3,127.5 861.9,133.9 866.8,140.0 C871.7,146.1 877.4,151.1 883.8,155.6 C890.2,160.1 896.8,163.2 905.1,167.0 C913.4,170.8 925.2,175.0 933.5,178.3 C941.8,181.6 947.7,183.2 954.8,186.8 C961.9,190.4 968.9,195.6 976.0,199.6 C983.1,203.6 990.0,207.3 997.3,210.9 C1004.6,214.5 1013.0,218.2 1020.0,220.9 C1027.0,223.6 1029.3,223.7 1039.0,226.8 C1048.7,229.9 1065.0,236.2 1078.0,239.5 C1091.0,242.8 1104.0,244.4 1117.0,246.3 C1130.0,248.2 1143.0,249.9 1156.0,251.2 C1169.0,252.5 1182.0,253.1 1195.0,254.1 C1208.0,255.1 1220.9,256.3 1234.1,257.0 C1247.3,257.7 1267.3,258.2 1274.0,258.4" fill="none" stroke="#fb3ff8" stroke-width="2.2" stroke-linecap="round" stroke-linejoin="round"/>
<path d="M795.4,16.1 C797.8,18.4 805.8,25.0 809.8,29.8 C813.8,34.6 816.4,37.3 819.7,44.7 C823.0,52.1 825.9,63.2 829.6,74.4 C833.3,85.6 838.9,100.9 842.0,111.7 C845.1,122.5 845.7,130.1 848.3,139.5 C850.9,148.9 854.4,160.6 857.5,168.0 C860.6,175.4 863.5,178.9 867.0,184.0 C870.5,189.1 873.3,193.5 878.5,198.5 C883.7,203.5 888.2,208.9 898.0,214.1 C907.8,219.3 926.7,225.8 937.0,229.7 C947.3,233.6 953.5,235.0 960.0,237.5 C966.5,240.0 969.3,242.1 976.0,244.5 C982.7,246.9 992.0,249.7 1000.0,252.0 C1008.0,254.3 1017.2,256.3 1023.8,258.3 C1030.4,260.3 1033.8,261.6 1039.8,263.8 C1045.8,266.1 1053.6,269.2 1060.0,271.8 C1066.4,274.4 1068.5,274.6 1078.0,279.5 C1087.5,284.4 1106.6,295.0 1117.0,300.9 C1127.4,306.8 1133.9,310.4 1140.4,314.6 C1146.9,318.8 1150.2,323.2 1156.0,326.3 C1161.8,329.4 1167.4,331.2 1175.5,333.1 C1183.6,335.1 1195.0,336.7 1204.8,338.0 C1214.6,339.3 1222.6,340.0 1234.1,340.9 C1245.6,341.8 1267.3,342.9 1274.0,343.3" fill="none" stroke="#0e2236" stroke-width="2.4" stroke-linecap="round" stroke-linejoin="round"/>
<path d="M795.4,15.4 C796.5,18.6 799.1,26.9 802.3,34.7 C805.5,42.5 810.2,52.9 814.7,62.0 C819.2,71.1 824.2,79.4 829.6,89.3 C835.0,99.2 841.5,113.1 847.0,121.6 C852.5,130.0 857.6,134.3 862.6,140.0 C867.6,145.7 873.6,152.0 876.7,155.6 C879.8,159.2 879.6,158.9 881.0,161.3 C882.4,163.7 883.1,167.2 885.2,169.8 C887.3,172.4 889.3,174.1 893.8,176.9 C898.3,179.7 905.6,183.7 912.2,186.8 C918.8,189.9 926.4,192.5 933.5,195.3 C940.6,198.1 948.9,201.0 954.8,203.8 C960.7,206.6 964.2,209.2 968.9,212.3 C973.6,215.4 978.4,219.0 983.1,222.3 C987.8,225.6 991.1,228.4 997.3,232.2 C1003.4,236.0 1013.0,241.3 1020.0,245.0 C1027.0,248.7 1029.3,249.3 1039.0,254.1 C1048.7,258.9 1065.0,266.8 1078.0,273.6 C1091.0,280.4 1105.6,289.7 1117.0,295.1 C1128.4,300.5 1136.5,303.5 1146.3,305.8 C1156.0,308.1 1164.1,308.0 1175.5,309.1 C1186.9,310.2 1198.1,311.1 1214.5,312.2 C1230.9,313.3 1264.1,315.3 1274.0,315.9" fill="none" stroke="#f5201a" stroke-width="2.4" stroke-linecap="round" stroke-linejoin="round"/>
<path d="M795.4,16.1 C797.0,18.0 801.6,21.7 804.8,27.3 C808.0,32.9 811.8,40.9 814.7,49.6 C817.6,58.3 820.1,68.7 822.2,79.4 C824.3,90.2 825.8,104.0 827.1,114.1 C828.4,124.2 828.7,130.9 829.9,140.0 C831.1,149.1 832.8,159.4 834.2,168.4 C835.6,177.4 836.8,186.3 838.4,193.9 C840.0,201.5 841.7,206.7 844.1,213.8 C846.5,220.9 849.5,229.4 852.6,236.5 C855.7,243.6 859.3,250.6 862.6,256.3 C865.9,262.0 868.2,266.5 872.5,270.5 C876.8,274.5 882.7,277.6 888.1,280.4 C893.5,283.2 897.5,284.2 905.1,287.5 C912.7,290.8 925.4,296.4 933.5,300.0 C941.6,303.6 946.3,305.7 953.8,309.3 C961.3,312.9 970.4,317.6 978.7,321.7 C987.0,325.8 995.1,330.4 1003.5,334.1 C1011.9,337.8 1020.1,340.9 1029.3,343.8 C1038.5,346.7 1047.1,349.2 1058.5,351.6 C1069.9,354.1 1084.5,356.8 1097.5,358.5 C1110.5,360.2 1123.5,361.0 1136.5,361.8 C1149.5,362.6 1162.5,362.7 1175.5,363.3 C1188.5,363.9 1198.1,364.4 1214.5,365.3 C1230.9,366.2 1264.1,368.2 1274.0,368.8" fill="none" stroke="#41ad3a" stroke-width="2.2" stroke-linecap="round" stroke-linejoin="round"/>
<line x1="826.7" y1="220.0" x2="826.7" y2="322.0" stroke="#f5201a" stroke-width="1.3" stroke-dasharray="2 1.6"/>
<path d="M826.7,202.5 L822.4,226 L831,226 Z" fill="#f5201a"/>
<path d="M826.7,339.1 L822.4,315.5 L831,315.5 Z" fill="#f5201a"/>
<text x="851.5" y="295.8" font-size="22.4" fill="#000" font-style="italic" textLength="43.4" lengthAdjust="spacingAndGlyphs" stroke="#000" stroke-width="0.3">50%</text>
<text x="851.5" y="322.9" font-size="22.4" fill="#000" font-style="italic" textLength="92.4" lengthAdjust="spacingAndGlyphs" stroke="#000" stroke-width="0.3">reduction</text>
<text x="870.4" y="380.2" font-size="22.4" fill="#000" font-style="italic" textLength="35.0" lengthAdjust="spacingAndGlyphs" stroke="#000" stroke-width="0.3">180</text>
<text x="913.0" y="379.8" font-size="18.5" fill="#000" textLength="20.6" lengthAdjust="spacingAndGlyphs" font-family="'Noto Sans CJK SC', 'Liberation Sans', sans-serif">℃</text>
<rect x="974.7" y="12.6" width="276.1" height="180.6" fill="#fff" stroke="#555" stroke-width="1.5"/>
<line x1="999.9" y1="24.1" x2="1067.1" y2="24.1" stroke="#41ad3a" stroke-width="2.2"/>
<text transform="translate(1073.0 28.7) scale(1 1.08)" font-size="17.3" textLength="76.8" lengthAdjust="spacingAndGlyphs">Control-N</text>
<line x1="999.9" y1="46.6" x2="1067.1" y2="46.6" stroke="#fb3ff8" stroke-width="2.2"/>
<text transform="translate(1073.0 51.2) scale(1 1.08)" font-size="17.3" textLength="97.3" lengthAdjust="spacingAndGlyphs">25S-AAM-N</text>
<line x1="999.9" y1="68.9" x2="1067.1" y2="68.9" stroke="#0e2236" stroke-width="2.4"/>
<text transform="translate(1073.0 73.5) scale(1 1.08)" font-size="17.3" textLength="90.4" lengthAdjust="spacingAndGlyphs">Control-CC</text>
<line x1="999.9" y1="91.8" x2="1067.1" y2="91.8" stroke="#f5201a" stroke-width="2.4"/>
<text transform="translate(1073.0 96.4) scale(1 1.08)" font-size="17.3" textLength="110.0" lengthAdjust="spacingAndGlyphs">25S-AAM-CC</text>
<line x1="1001.7" y1="114.4" x2="1065.3" y2="114.4" stroke="#41ad3a" stroke-width="3.6" stroke-linecap="round" stroke-dasharray="10 16"/>
<text transform="translate(1073.0 119.0) scale(1 1.08)" font-size="17.3" textLength="132.0" lengthAdjust="spacingAndGlyphs">Control-N (DTG)</text>
<line x1="1001.8" y1="137.5" x2="1065.2" y2="137.5" stroke="#fb3ff8" stroke-width="3.8" stroke-linecap="round" stroke-dasharray="7 8"/>
<text transform="translate(1073.0 142.1) scale(1 1.08)" font-size="17.3" textLength="151.2" lengthAdjust="spacingAndGlyphs">25S-AAM-N (DTG)</text>
<line x1="1002.1" y1="160.6" x2="1064.9" y2="160.6" stroke="#000000" stroke-width="4.4" stroke-linecap="round" stroke-dasharray="25 17"/>
<text transform="translate(1073.0 165.2) scale(1 1.08)" font-size="17.3" textLength="145.2" lengthAdjust="spacingAndGlyphs">Control-CC (DTG)</text>
<line x1="1001.8" y1="182.7" x2="1065.2" y2="182.7" stroke="#f5201a" stroke-width="3.8" stroke-linecap="round" stroke-dasharray="10 16"/>
<text transform="translate(1073.0 187.3) scale(1 1.08)" font-size="17.3" textLength="163.7" lengthAdjust="spacingAndGlyphs">25S-AAM-CC (DTG)</text>
<line x1="1464.8" y1="21.3" x2="1464.8" y2="475.0" stroke="#3a3a3a" stroke-width="2"/>
<line x1="1458.4" y1="21.3" x2="1464.8" y2="21.3" stroke="#3a3a3a" stroke-width="1.6"/>
<text transform="translate(1445.6 29.2) scale(1 1.08)" font-size="22.3" text-anchor="end">100</text>
<line x1="1458.4" y1="96.9" x2="1464.8" y2="96.9" stroke="#3a3a3a" stroke-width="1.6"/>
<text transform="translate(1445.6 104.8) scale(1 1.08)" font-size="22.3" text-anchor="end">95</text>
<line x1="1458.4" y1="172.4" x2="1464.8" y2="172.4" stroke="#3a3a3a" stroke-width="1.6"/>
<text transform="translate(1445.6 180.3) scale(1 1.08)" font-size="22.3" text-anchor="end">90</text>
<line x1="1458.4" y1="248.0" x2="1464.8" y2="248.0" stroke="#3a3a3a" stroke-width="1.6"/>
<text transform="translate(1445.6 255.9) scale(1 1.08)" font-size="22.3" text-anchor="end">85</text>
<line x1="1458.4" y1="323.6" x2="1464.8" y2="323.6" stroke="#3a3a3a" stroke-width="1.6"/>
<text transform="translate(1445.6 331.5) scale(1 1.08)" font-size="22.3" text-anchor="end">80</text>
<line x1="1458.4" y1="399.1" x2="1464.8" y2="399.1" stroke="#3a3a3a" stroke-width="1.6"/>
<text transform="translate(1445.6 407.0) scale(1 1.08)" font-size="22.3" text-anchor="end">75</text>
<line x1="1458.4" y1="474.7" x2="1464.8" y2="474.7" stroke="#3a3a3a" stroke-width="1.6"/>
<text transform="translate(1445.6 482.6) scale(1 1.08)" font-size="22.3" text-anchor="end">70</text>
<line x1="1464.8" y1="474.7" x2="1926.0" y2="474.7" stroke="#3a3a3a" stroke-width="2"/>
<line x1="1464.7" y1="474.7" x2="1464.7" y2="481.0" stroke="#3a3a3a" stroke-width="1.6"/>
<text transform="translate(1464.7 509.2) scale(1 1.08)" font-size="22" text-anchor="middle">0</text>
<line x1="1515.2" y1="474.7" x2="1515.2" y2="481.0" stroke="#3a3a3a" stroke-width="1.6"/>
<text transform="translate(1515.2 509.2) scale(1 1.08)" font-size="22" text-anchor="middle">100</text>
<line x1="1565.7" y1="474.7" x2="1565.7" y2="481.0" stroke="#3a3a3a" stroke-width="1.6"/>
<text transform="translate(1565.7 509.2) scale(1 1.08)" font-size="22" text-anchor="middle">200</text>
<line x1="1616.2" y1="474.7" x2="1616.2" y2="481.0" stroke="#3a3a3a" stroke-width="1.6"/>
<text transform="translate(1616.2 509.2) scale(1 1.08)" font-size="22" text-anchor="middle">300</text>
<line x1="1666.7" y1="474.7" x2="1666.7" y2="481.0" stroke="#3a3a3a" stroke-width="1.6"/>
<text transform="translate(1666.7 509.2) scale(1 1.08)" font-size="22" text-anchor="middle">400</text>
<line x1="1717.2" y1="474.7" x2="1717.2" y2="481.0" stroke="#3a3a3a" stroke-width="1.6"/>
<text transform="translate(1717.2 509.2) scale(1 1.08)" font-size="22" text-anchor="middle">500</text>
<line x1="1767.7" y1="474.7" x2="1767.7" y2="481.0" stroke="#3a3a3a" stroke-width="1.6"/>
<text transform="translate(1767.7 509.2) scale(1 1.08)" font-size="22" text-anchor="middle">600</text>
<line x1="1818.2" y1="474.7" x2="1818.2" y2="481.0" stroke="#3a3a3a" stroke-width="1.6"/>
<text transform="translate(1818.2 509.2) scale(1 1.08)" font-size="22" text-anchor="middle">700</text>
<line x1="1868.7" y1="474.7" x2="1868.7" y2="481.0" stroke="#3a3a3a" stroke-width="1.6"/>
<text transform="translate(1868.7 509.2) scale(1 1.08)" font-size="22" text-anchor="middle">800</text>
<line x1="1919.2" y1="474.7" x2="1919.2" y2="481.0" stroke="#3a3a3a" stroke-width="1.6"/>
<text transform="translate(1919.2 509.2) scale(1 1.08)" font-size="22" text-anchor="middle">900</text>
<line x1="1921.2" y1="21.4" x2="1921.2" y2="474.7" stroke="#a8a8a8" stroke-width="1.6"/>
<line x1="1921.2" y1="21.4" x2="1926.5" y2="21.4" stroke="#a8a8a8" stroke-width="1.4"/>
<text transform="translate(1938.6 29.1) scale(1 1.08)" font-size="22">0.4</text>
<line x1="1921.2" y1="134.7" x2="1926.5" y2="134.7" stroke="#a8a8a8" stroke-width="1.4"/>
<text transform="translate(1938.6 142.4) scale(1 1.08)" font-size="22">0.3</text>
<line x1="1921.2" y1="248.1" x2="1926.5" y2="248.1" stroke="#a8a8a8" stroke-width="1.4"/>
<text transform="translate(1938.6 255.8) scale(1 1.08)" font-size="22">0.2</text>
<line x1="1921.2" y1="361.4" x2="1926.5" y2="361.4" stroke="#a8a8a8" stroke-width="1.4"/>
<text transform="translate(1938.6 369.1) scale(1 1.08)" font-size="22">0.1</text>
<line x1="1921.2" y1="474.7" x2="1926.5" y2="474.7" stroke="#a8a8a8" stroke-width="1.4"/>
<text transform="translate(1938.6 482.4) scale(1 1.08)" font-size="22">0</text>
<text transform="translate(1405.8 459.6) rotate(-90) scale(1 1.08)" font-size="21.2" textLength="404.4" lengthAdjust="spacingAndGlyphs">Relative mass change (% of original mass)</text>
<text transform="translate(1638.5 548.8) scale(1 1.08)" font-size="22" textLength="166.2" lengthAdjust="spacingAndGlyphs">Temperature (ºC)</text>
<text transform="translate(1993.5 389.0) rotate(-90) scale(1 1.08)" font-size="21.3" textLength="289.6" lengthAdjust="spacingAndGlyphs">Derivative of mass loss (%/°C)</text>
<text x="1888.6" y="26.8" font-size="26">(<tspan font-weight="bold">c</tspan>)</text>
<path d="M1480.7,473.9 C1480.7,458.2 1480.4,387.5 1480.7,379.8 C1481.0,372.1 1481.5,418.4 1482.3,427.7 C1483.1,437.0 1483.6,435.1 1485.5,435.6 C1487.4,436.1 1490.6,434.2 1493.5,430.8 C1496.4,427.4 1499.9,419.4 1503.1,414.9 C1506.3,410.4 1510.6,400.8 1512.7,403.7 C1514.8,406.6 1515.2,431.9 1515.8,432.4 C1516.4,432.9 1515.8,412.5 1516.6,406.9 C1517.4,401.3 1519.4,401.0 1520.6,398.9 C1521.8,396.8 1522.2,395.7 1523.8,394.1 C1525.4,392.5 1528.1,389.1 1530.2,389.4 C1532.3,389.7 1533.9,392.5 1536.6,395.7 C1539.3,398.9 1543.0,404.0 1546.2,408.5 C1549.4,413.0 1552.5,417.8 1555.7,422.9 C1558.9,427.9 1562.1,434.3 1565.3,438.8 C1568.5,443.3 1571.2,446.9 1574.9,450.0 C1578.6,453.1 1581.6,456.1 1587.7,457.2 C1593.8,458.3 1603.6,456.5 1611.6,456.4 C1619.6,456.3 1626.2,457.5 1635.5,456.4 C1644.8,455.3 1658.3,450.1 1667.4,450.0 C1676.5,449.9 1680.2,455.4 1690.0,456.0 C1699.8,456.6 1715.0,454.4 1726.0,453.6 C1737.0,452.8 1746.0,452.4 1756.0,451.2 C1766.0,450.0 1779.8,447.8 1786.0,446.4 C1792.2,445.0 1790.4,444.6 1793.2,442.8 C1796.0,441.0 1800.4,436.2 1802.8,435.6 C1805.2,435.0 1806.4,436.8 1807.6,439.2 C1808.8,441.6 1809.2,446.2 1810.0,450.0 C1810.8,453.8 1811.2,458.6 1812.4,462.0 C1813.6,465.4 1813.6,468.7 1817.2,470.4 C1820.8,472.1 1818.6,471.7 1834.0,472.2 C1849.4,472.7 1897.0,473.2 1909.6,473.4" fill="none" stroke="#41ad3a" stroke-width="2.4" stroke-linecap="butt" stroke-linejoin="round" stroke-dasharray="8 5"/>
<path d="M1480.7,473.9 C1480.8,463.5 1481.0,418.1 1481.5,411.7 C1482.0,405.3 1482.2,430.8 1483.9,435.6 C1485.6,440.4 1488.2,441.2 1491.9,440.4 C1495.6,439.6 1502.0,434.0 1506.3,430.8 C1510.5,427.6 1513.7,424.0 1517.4,421.3 C1521.1,418.6 1524.9,414.4 1528.6,414.9 C1532.3,415.4 1536.3,421.3 1539.8,424.5 C1543.3,427.7 1546.2,431.4 1549.4,434.0 C1552.6,436.6 1555.2,437.2 1558.9,440.4 C1562.6,443.6 1567.7,450.3 1571.7,453.2 C1575.7,456.1 1577.6,457.1 1582.9,458.0 C1588.2,458.9 1594.8,458.5 1603.6,458.8 C1612.4,459.1 1624.9,459.9 1635.5,459.6 C1646.1,459.3 1658.3,457.6 1667.4,457.2 C1676.5,456.8 1681.8,457.6 1690.0,457.2 C1698.2,456.8 1708.4,456.1 1716.4,454.8 C1724.4,453.5 1729.6,451.0 1738.0,449.4 C1746.4,447.8 1758.8,443.9 1766.8,445.2 C1774.8,446.5 1781.2,455.9 1786.0,457.2 C1790.8,458.5 1792.2,453.4 1795.6,453.0 C1799.0,452.6 1804.0,453.1 1806.4,454.8 C1808.8,456.5 1809.0,461.0 1810.0,463.2 C1811.0,465.4 1810.4,466.6 1812.4,468.0 C1814.4,469.4 1805.8,470.6 1822.0,471.6 C1838.2,472.6 1895.0,473.6 1909.6,474.0" fill="none" stroke="#fb3ff8" stroke-width="4.2" stroke-linecap="butt" stroke-linejoin="round" stroke-dasharray="13 11"/>
<path d="M1481.5,473.9 C1481.6,470.2 1482.2,464.6 1482.3,451.6 C1482.4,438.6 1482.1,417.0 1482.0,395.7 C1481.9,374.4 1481.9,329.2 1481.9,323.9 C1482.0,318.6 1482.1,346.5 1482.3,363.8 C1482.5,381.1 1482.6,413.9 1483.1,427.7 C1483.6,441.5 1484.0,443.4 1485.5,446.8 C1487.0,450.2 1489.5,448.7 1491.9,448.4 C1494.3,448.1 1497.2,446.5 1499.9,445.2 C1502.6,443.9 1505.2,442.0 1507.9,440.4 C1510.6,438.8 1513.7,437.7 1515.8,435.6 C1517.9,433.5 1519.4,430.1 1520.6,427.7 C1521.8,425.3 1522.2,424.2 1523.0,421.3 C1523.8,418.4 1524.5,410.1 1525.4,410.1 C1526.3,410.1 1527.5,417.9 1528.6,421.3 C1529.7,424.8 1530.5,428.2 1531.8,430.8 C1533.1,433.4 1534.5,435.3 1536.6,437.2 C1538.7,439.1 1542.2,440.9 1544.6,442.0 C1547.0,443.1 1549.2,444.4 1551.0,443.6 C1552.8,442.8 1554.5,439.3 1555.7,437.2 C1556.9,435.1 1557.4,430.5 1558.1,430.8 C1558.8,431.1 1558.8,435.6 1559.7,438.8 C1560.6,442.0 1561.7,446.5 1563.7,450.0 C1565.7,453.5 1567.7,457.5 1571.7,459.6 C1575.7,461.7 1579.7,462.4 1587.7,462.8 C1595.7,463.2 1609.0,462.5 1619.6,462.0 C1630.2,461.5 1643.5,459.2 1651.5,459.6 C1659.5,460.0 1661.0,463.4 1667.4,464.4 C1673.8,465.4 1682.2,465.2 1690.0,465.6 C1697.8,466.0 1706.0,467.2 1714.0,466.8 C1722.0,466.4 1730.0,464.6 1738.0,463.2 C1746.0,461.8 1757.6,457.6 1762.0,458.4 C1766.4,459.2 1763.8,465.2 1764.4,468.0 C1765.0,470.8 1765.2,478.4 1765.6,475.2 C1766.0,472.0 1765.4,451.2 1766.8,448.8 C1768.2,446.4 1770.8,459.4 1774.0,460.8 C1777.2,462.2 1782.4,460.0 1786.0,457.2 C1789.6,454.4 1793.0,448.2 1795.6,444.0 C1798.2,439.8 1799.2,436.4 1801.6,432.0 C1804.0,427.6 1807.4,421.4 1810.0,417.6 C1812.6,413.8 1814.6,411.0 1817.2,409.2 C1819.8,407.4 1823.6,405.4 1825.6,406.8 C1827.6,408.2 1828.3,412.4 1829.2,417.6 C1830.1,422.8 1830.4,430.6 1831.0,438.0 C1831.6,445.4 1831.9,456.8 1832.8,462.0 C1833.7,467.2 1832.2,467.5 1836.4,469.2 C1840.6,470.9 1845.8,471.4 1858.0,472.2 C1870.2,473.0 1901.0,473.7 1909.6,474.0" fill="none" stroke="#8a2a0c" stroke-width="2.6" stroke-linecap="butt" stroke-linejoin="round" stroke-dasharray="5 3"/>
<path d="M1477.6,474.1 L1477.6,472.7 L1477.6,473.2 L1477.6,470.0 L1477.6,470.1 L1477.6,468.0 L1477.6,465.3 L1477.6,465.0 L1477.6,461.6 L1477.6,460.9 L1477.6,457.7 L1477.6,455.8 L1477.7,454.8 L1477.7,454.1 L1477.7,449.8 L1477.7,448.1 L1477.8,447.5 L1477.8,446.6 L1477.9,443.7 L1477.9,441.4 L1478.0,441.7 L1478.1,437.4 L1478.2,438.7 L1478.3,435.8 L1478.4,434.5 L1479.8,431.8 L1481.7,434.3 L1483.9,438.2 L1485.3,437.0 L1486.8,439.3 L1488.5,440.6 L1490.2,440.8 L1491.9,442.2 L1493.4,441.1 L1494.9,441.7 L1496.4,442.6 L1498.0,444.4 L1499.7,443.6 L1501.5,443.0 L1503.0,443.4 L1504.6,442.2 L1506.2,440.8 L1507.9,441.4 L1509.6,440.1 L1511.3,437.7 L1512.8,437.9 L1514.3,437.3 L1516.4,438.0 L1518.2,437.5 L1519.9,436.3 L1521.7,439.0 L1523.8,436.8 L1525.2,438.2 L1526.8,439.9 L1528.4,438.6 L1530.0,440.5 L1531.7,439.8 L1533.3,442.6 L1535.0,443.7 L1536.6,443.8 L1538.2,445.5 L1539.8,444.3 L1541.4,446.2 L1543.0,446.5 L1544.6,447.2 L1546.2,447.5 L1547.8,449.6 L1549.4,450.8 L1550.7,450.2 L1551.9,451.7 L1553.2,450.9 L1554.5,454.0 L1555.8,454.9 L1557.0,457.2 L1558.3,457.7 L1559.6,457.0 L1560.8,458.3 L1562.1,460.0 L1563.6,458.9 L1565.1,461.2 L1566.5,461.0 L1568.0,461.6 L1569.5,462.1 L1571.1,464.9 L1572.9,463.4 L1574.9,464.2 L1576.3,464.9 L1577.9,466.7 L1579.4,464.3 L1581.1,465.6 L1582.8,466.1 L1584.5,467.2 L1586.3,467.1 L1588.2,467.3 L1590.0,465.4 L1591.9,465.8 L1593.7,465.6 L1595.6,467.2 L1597.1,467.4 L1598.6,464.7 L1600.1,464.7 L1601.6,464.7 L1603.1,464.6 L1604.6,465.2 L1606.1,465.3 L1607.7,464.1 L1609.3,463.1 L1610.9,464.2 L1612.5,463.8 L1614.2,464.2 L1616.0,465.3 L1617.8,464.3 L1619.6,463.5 L1621.1,463.8 L1622.7,463.8 L1624.3,461.7 L1625.9,464.4 L1627.6,463.9 L1629.4,464.1 L1631.1,463.8 L1632.9,462.4 L1634.7,462.3 L1636.4,461.3 L1638.2,462.9 L1640.0,461.0 L1641.7,460.9 L1643.5,461.2 L1645.2,460.9 L1646.8,461.4 L1648.4,460.3 L1650.0,460.0 L1651.5,460.3 L1653.3,459.9 L1655.2,460.4 L1656.9,459.0 L1658.7,461.4 L1660.4,460.2 L1662.1,458.3 L1663.7,458.3 L1665.3,458.2 L1666.9,457.9 L1668.4,456.8 L1669.9,458.8 L1671.3,458.9 L1672.7,456.9 L1674.1,456.8 L1675.4,455.3 L1677.4,455.1 L1679.1,455.6 L1680.6,455.2 L1682.0,456.9 L1683.4,454.7 L1684.8,454.3 L1686.3,457.3 L1688.0,456.0 L1690.0,454.9 L1691.3,456.2 L1692.7,454.7 L1694.2,456.4 L1695.7,458.0 L1697.3,457.9 L1698.9,457.5 L1700.6,456.4 L1702.3,456.9 L1703.9,456.5 L1705.7,458.6 L1707.4,458.0 L1709.0,459.0 L1710.7,457.7 L1712.4,457.5 L1714.0,459.4 L1715.6,460.0 L1717.2,459.6 L1718.8,459.4 L1720.4,459.4 L1722.0,459.1 L1723.6,457.4 L1725.2,458.3 L1726.8,457.7 L1728.4,456.5 L1730.0,456.4 L1731.6,457.1 L1733.2,456.9 L1734.8,458.1 L1736.4,458.8 L1738.0,457.0 L1739.6,458.4 L1741.2,458.4 L1742.8,458.1 L1744.4,455.9 L1746.0,455.2 L1747.6,455.0 L1749.2,454.6 L1750.8,454.4 L1752.4,455.5 L1754.0,456.1 L1755.6,455.6 L1757.2,454.2 L1758.8,454.5 L1760.4,454.8 L1762.0,452.3 L1763.6,453.9 L1765.3,454.6 L1767.0,454.0 L1768.8,453.8 L1770.5,452.8 L1772.3,451.8 L1774.0,453.6 L1775.8,452.0 L1777.4,453.4 L1779.1,453.8 L1780.6,451.8 L1782.1,451.7 L1783.5,453.2 L1784.8,452.2 L1786.0,450.1 L1788.1,449.3 L1789.8,448.5 L1791.2,450.0 L1792.3,448.7 L1793.4,445.4 L1794.4,446.4 L1795.6,445.5 L1796.6,443.4 L1797.6,441.1 L1798.6,440.3 L1799.5,437.6 L1800.5,435.7 L1801.4,437.3 L1802.3,434.9 L1803.2,433.2 L1804.0,433.4 L1805.4,430.0 L1806.6,429.9 L1807.8,428.4 L1808.9,425.2 L1810.0,424.0 L1811.3,422.4 L1812.6,420.4 L1813.8,420.0 L1814.8,418.0 L1816.2,418.5 L1817.2,420.0 L1817.5,423.6 L1817.8,423.1 L1818.1,424.9 L1818.4,426.9 L1818.7,429.7 L1819.0,430.0 L1819.3,433.6 L1819.6,434.4 L1819.8,435.9 L1819.9,437.4 L1820.1,437.4 L1820.2,440.5 L1820.3,441.4 L1820.5,442.6 L1820.6,447.0 L1820.7,446.8 L1820.9,449.5 L1821.0,452.1 L1821.1,453.2 L1821.3,454.0 L1821.4,456.1 L1821.5,458.2 L1821.4,460.8 L1821.2,460.5 L1821.0,463.7 L1821.0,464.4 L1821.0,466.0 L1821.4,469.0 L1822.1,469.4 L1823.2,470.6 L1824.1,471.8 L1825.0,472.7 L1826.0,471.6 L1827.0,472.4 L1828.1,472.2 L1829.4,472.4 L1830.7,473.1 L1832.3,472.4 L1834.0,472.7 L1835.9,472.5 L1838.0,474.0 L1840.4,473.3 L1843.1,473.9 L1846.0,474.2 L1847.2,472.1 L1848.4,473.1 L1849.7,474.3 L1851.1,474.0 L1852.6,471.8 L1854.2,471.8 L1855.8,472.8 L1857.5,471.7 L1859.2,472.2 L1861.0,471.7 L1862.8,473.7 L1864.6,474.0 L1866.5,474.4 L1868.4,472.1 L1870.4,473.9 L1872.3,473.7 L1874.3,472.1 L1876.3,474.5 L1878.2,474.7 L1880.2,472.4 L1882.2,474.7 L1884.1,473.0 L1886.0,473.2 L1887.9,474.9 L1889.8,474.4 L1891.6,472.2 L1893.4,473.1 L1895.1,473.4 L1896.8,472.8 L1898.4,472.4 L1900.0,472.8 L1901.5,474.1 L1902.9,471.8 L1904.3,473.5 L1905.5,473.2 L1906.7,471.8 L1907.8,472.8 L1908.7,473.8 L1909.6,473.4" fill="none" stroke="#f5201a" stroke-width="3.3" stroke-linecap="butt" stroke-linejoin="round" stroke-dasharray="3.5 1.2"/>
<path d="M1476.7,20.8 C1478.2,22.4 1482.1,26.8 1485.7,30.6 C1489.3,34.4 1494.2,37.8 1498.5,43.4 C1502.8,49.0 1507.1,56.7 1511.4,64.0 C1515.7,71.3 1519.9,79.0 1524.2,87.1 C1528.5,95.2 1532.8,104.2 1537.1,112.8 C1541.4,121.4 1545.6,130.8 1549.9,138.5 C1554.2,146.2 1557.7,153.4 1562.8,159.0 C1567.9,164.6 1573.5,168.1 1580.8,171.9 C1588.1,175.8 1597.5,178.2 1606.5,182.1 C1615.5,185.9 1624.9,189.8 1634.7,195.0 C1644.5,200.2 1656.3,207.4 1665.5,213.0 C1674.7,218.6 1680.8,223.2 1690.0,228.5 C1699.2,233.8 1710.4,239.0 1720.6,244.8 C1730.8,250.6 1740.3,256.8 1751.2,263.1 C1762.1,269.4 1778.0,277.7 1785.8,282.5 C1793.6,287.3 1793.7,287.6 1798.1,291.7 C1802.5,295.8 1806.5,304.1 1812.3,307.0 C1818.1,309.9 1816.4,308.1 1832.7,309.0 C1849.0,309.9 1897.3,311.6 1910.2,312.1" fill="none" stroke="#41ad3a" stroke-width="2.4" stroke-linecap="round" stroke-linejoin="round"/>
<path d="M1476.7,20.8 C1479.0,22.4 1485.0,25.6 1490.8,30.6 C1496.6,35.6 1505.4,44.2 1511.4,51.1 C1517.4,58.0 1521.7,64.9 1526.8,71.7 C1531.9,78.5 1536.6,85.4 1542.2,92.2 C1547.8,99.0 1553.8,107.0 1560.2,112.8 C1566.6,118.6 1573.1,123.1 1580.8,126.9 C1588.5,130.8 1596.7,132.3 1606.5,135.9 C1616.3,139.5 1629.2,144.2 1639.9,148.7 C1650.6,153.2 1662.4,159.1 1670.7,162.9 C1679.0,166.7 1680.0,166.2 1690.0,171.4 C1700.0,176.6 1722.5,189.4 1730.8,193.8 C1739.1,198.2 1736.4,195.8 1740.0,198.1 C1743.6,200.4 1748.8,204.6 1752.4,207.4 C1756.0,210.2 1758.6,212.3 1761.7,214.8 C1764.8,217.3 1767.4,219.8 1771.0,222.3 C1774.6,224.8 1779.3,227.4 1783.4,229.7 C1787.5,232.0 1791.7,233.5 1795.8,235.9 C1799.9,238.3 1805.3,242.4 1808.2,244.0 C1811.1,245.6 1809.9,245.1 1813.0,245.5 C1816.1,245.9 1819.0,245.9 1826.8,246.4 C1834.6,246.9 1846.1,248.0 1860.0,248.6 C1873.9,249.2 1901.8,249.6 1910.2,249.8" fill="none" stroke="#fb3ff8" stroke-width="2.4" stroke-linecap="round" stroke-linejoin="round"/>
<path d="M1479.3,20.8 C1481.7,23.3 1488.9,31.9 1493.4,35.7 C1497.9,39.5 1501.5,39.8 1506.2,43.4 C1510.9,47.0 1516.6,51.9 1521.7,57.5 C1526.8,63.1 1532.4,71.9 1537.1,76.8 C1541.8,81.7 1546.1,83.2 1549.9,87.1 C1553.8,90.9 1555.9,96.5 1560.2,99.9 C1564.5,103.3 1568.8,105.0 1575.6,107.6 C1582.4,110.2 1590.6,111.9 1601.3,115.3 C1612.0,118.7 1629.2,124.8 1639.9,128.2 C1650.6,131.6 1657.2,133.8 1665.5,135.9 C1673.8,138.0 1679.1,138.3 1690.0,140.8 C1700.9,143.3 1718.9,147.6 1730.8,151.0 C1742.7,154.4 1752.9,158.1 1761.4,161.2 C1769.9,164.2 1776.0,166.6 1781.8,169.3 C1787.6,172.0 1791.6,173.4 1796.0,177.5 C1800.4,181.6 1804.2,187.7 1808.3,193.8 C1812.4,199.9 1816.8,208.2 1820.5,214.2 C1824.2,220.1 1825.3,226.3 1830.7,229.5 C1836.1,232.7 1839.8,232.7 1853.1,233.6 C1866.3,234.5 1900.7,234.8 1910.2,235.0" fill="none" stroke="#0e2236" stroke-width="2.6" stroke-linecap="round" stroke-linejoin="round"/>
<path d="M1476.7,20.8 C1478.6,22.4 1482.5,26.0 1488.3,30.6 C1494.1,35.2 1503.3,41.2 1511.4,48.5 C1519.5,55.8 1529.0,66.9 1537.1,74.2 C1545.2,81.5 1551.6,87.7 1560.2,92.2 C1568.8,96.7 1577.4,97.6 1588.5,101.2 C1599.6,104.8 1614.2,109.6 1627.0,114.1 C1639.8,118.6 1655.0,123.7 1665.5,128.2 C1676.0,132.6 1679.1,135.7 1690.0,140.8 C1700.9,146.0 1718.9,153.7 1730.8,159.1 C1742.7,164.5 1752.9,169.0 1761.4,173.4 C1769.9,177.8 1775.7,181.9 1781.8,185.6 C1787.9,189.3 1793.0,191.0 1798.1,195.8 C1803.2,200.6 1808.2,209.4 1812.3,214.2 C1816.4,219.0 1815.7,222.6 1822.5,224.8 C1829.3,227.0 1838.5,226.6 1853.1,227.4 C1867.7,228.2 1900.7,229.3 1910.2,229.7" fill="none" stroke="#f5201a" stroke-width="2.8" stroke-linecap="round" stroke-linejoin="round"/>
<rect x="1567.3" y="282.8" width="218.9" height="136.5" fill="#fff" stroke="#555" stroke-width="1.5"/>
<line x1="1579.5" y1="290.6" x2="1648.6" y2="290.6" stroke="#41ad3a" stroke-width="3"/>
<text transform="translate(1655.0 295.8) scale(1 1.08)" font-size="16.8" textLength="68.7" lengthAdjust="spacingAndGlyphs">Control-N</text>
<line x1="1579.5" y1="325.3" x2="1648.6" y2="325.3" stroke="#fb3ff8" stroke-width="2.4"/>
<text transform="translate(1655.0 330.5) scale(1 1.08)" font-size="16.8" textLength="86.4" lengthAdjust="spacingAndGlyphs">25S-AAM-N</text>
<line x1="1579.5" y1="359.1" x2="1648.6" y2="359.1" stroke="#0e2236" stroke-width="2.8"/>
<text transform="translate(1655.0 364.3) scale(1 1.08)" font-size="16.8" textLength="81.5" lengthAdjust="spacingAndGlyphs">Control-CC</text>
<line x1="1579.5" y1="392.7" x2="1648.6" y2="392.7" stroke="#f5201a" stroke-width="2.8"/>
<text transform="translate(1655.0 397.9) scale(1 1.08)" font-size="16.8" textLength="98.5" lengthAdjust="spacingAndGlyphs">25S-AAM-CC</text>
</g>
</svg>
</body></html>
